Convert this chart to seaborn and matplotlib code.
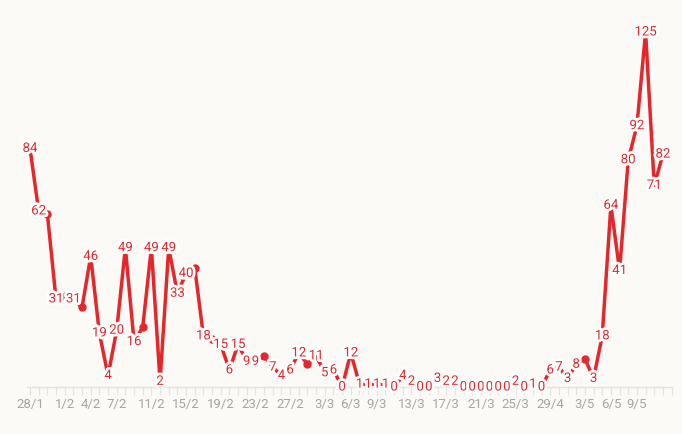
import matplotlib
matplotlib.use("Agg")
import matplotlib.pyplot as plt
import matplotlib.patheffects as pe
import pandas as pd
import seaborn as sns

# daily categories (gap between 28/3 and 29/4 is in the source data)
dates = (["%d/1" % d for d in range(28, 32)]
         + ["%d/2" % d for d in range(1, 29)]
         + ["%d/3" % d for d in range(1, 29)]
         + ["29/4", "30/4"]
         + ["%d/5" % d for d in range(1, 13)])

cases = [84, 62, 61, 31, 32, 31, 28, 46, 19, 4,
         20, 49, 16, 21, 49, 2, 49, 33, 40, 42,
         18, 17, 15, 6, 15, 9, 9, 11, 7, 4,
         6, 12, 8, 11, 5, 6, 0, 12, 1, 1,
         1, 1, 0, 4, 2, 0, 0, 3, 2, 2,
         0, 0, 0, 0, 0, 0, 2, 0, 1, 0,
         6, 7, 3, 8, 10, 3, 18, 64, 41, 80,
         92, 125, 71, 82]

# points whose value label is not shown (overlapping neighbours)
hidden_labels = [2, 4, 6, 13, 19, 21, 27, 32, 64]

tick_labels = ["28/1", "1/2", "4/2", "7/2", "11/2", "15/2", "19/2", "23/2", "27/2",
               "3/3", "6/3", "9/3", "13/3", "17/3", "21/3", "25/3", "29/4",
               "3/5", "6/5", "9/5"]

df = pd.DataFrame({"idx": range(len(dates)), "date": dates, "cases": cases})

RED = "#e3272b"
BG = "#fbfaf7"

sns.set_theme(style="white")
plt.rcParams["font.family"] = ["Roboto", "DejaVu Sans"]

fig = plt.figure(figsize=(6.82, 4.34), dpi=100, facecolor=BG)
ax = fig.add_axes([27.4 / 682, (434 - 387) / 434, 644.2 / 682, (387 - 3.6) / 434])
ax.set_facecolor(BG)

sns.lineplot(data=df, x="idx", y="cases", color=RED, linewidth=2.5, ax=ax,
             solid_joinstyle="round", solid_capstyle="round", zorder=2)

hid = df[df["idx"].isin(hidden_labels)]
ax.plot(hid["idx"], hid["cases"], "o", color=RED, markersize=5, zorder=2)

halo = [pe.withStroke(linewidth=4, foreground="white")]
for i, v in zip(df["idx"], df["cases"]):
    if i in hidden_labels:
        continue
    ax.text(i, v, str(v), ha="center", va="center", color=RED, fontsize=9.5,
            path_effects=halo, zorder=3, clip_on=False)

ax.set_xlim(-0.3, 74)
ax.set_ylim(0, 135)

for s in ["top", "right", "left"]:
    ax.spines[s].set_visible(False)
ax.spines["bottom"].set_color("#e6e3de")
ax.spines["bottom"].set_linewidth(1)

ax.set_xticks(range(0, 75), minor=True)
ax.set_xticks([dates.index(t) for t in tick_labels])
ax.set_xticklabels(tick_labels)
ax.tick_params(axis="x", which="both", direction="out", length=6, width=0.8,
               color="#e6e3de", bottom=True)
ax.tick_params(axis="x", which="major", labelsize=9.5, labelcolor="#a9a6a1", pad=2)
ax.set_yticks([])
ax.set_xlabel("")
ax.set_ylabel("")

fig.savefig("out.png", dpi=100, facecolor=BG)
